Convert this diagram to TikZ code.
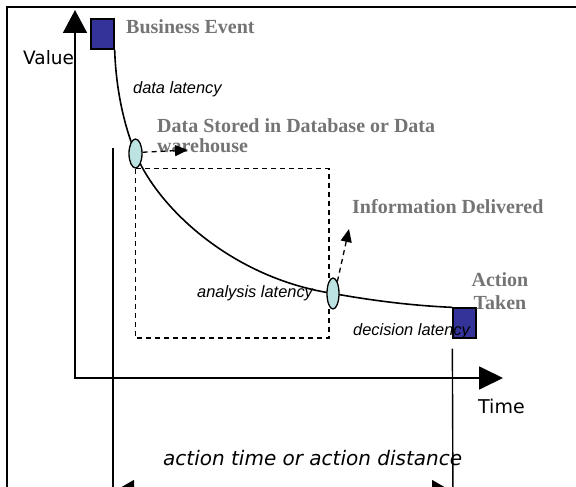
\documentclass[tikz,border=0pt]{standalone}
\usepackage{fontspec}
\setmainfont{Liberation Serif}
\newfontfamily\axisfont{DejaVu Sans}
\newfontfamily\notefont{Liberation Sans}
\usepackage{xcolor}
\usetikzlibrary{positioning, calc, arrows.meta, shapes.geometric, backgrounds}

\definecolor{eventblue}{HTML}{333399}
\definecolor{stagecyan}{HTML}{BCE2E2}
\definecolor{labelgray}{HTML}{747474}

\tikzset{
  frameline/.style={line width=2pt},
  axisline/.style={line width=1.8pt},
  spanline/.style={line width=1.4pt},
  valuecurve/.style={line width=1.6pt},
  eventbox/.style={draw=black, line width=1.3pt, fill=eventblue,
    minimum width=23pt, minimum height=30pt, inner sep=0pt},
  stage/.style={ellipse, draw=black, line width=1.3pt, fill=stagecyan,
    minimum width=13pt, minimum height=29pt, inner sep=0pt},
  dashbox/.style={line width=1.3pt, dash pattern=on 5pt off 4pt},
  dasharrow/.style={line width=1.3pt, dash pattern=on 5pt off 4pt,
    -{Triangle[length=13pt,width=11pt]}},
  milestone/.style={text=labelgray, font=\fontsize{20}{20}\selectfont\bfseries,
    inner sep=0pt},
  latency/.style={font=\notefont\itshape\fontsize{16.4}{19}\selectfont, inner sep=0pt},
  axislabel/.style={font=\axisfont\fontsize{19}{22}\selectfont, inner sep=0pt}
}

\begin{document}
\begin{tikzpicture}[x=1pt, y=-1pt]
    \useasboundingbox (0,0) rectangle (576,487);

    % frame (top and left only)
    \draw[frameline] (576,7) -- (7,7) -- (7,492);

    % axes
    \coordinate (valtop) at (75,10);
    \coordinate (timeend) at (503,378);
    \draw[axisline, {Triangle[length=23pt,width=24pt]}-{Triangle[length=24pt,width=23pt]}]
        (valtop) |- (timeend);

    % events and stages
    \node[eventbox] (bizevent) at (102.5,34) {};
    \node[stage] (stored) at (135.5,153.5) {};
    \node[stage, minimum width=12pt, minimum height=31pt] (delivered) at (333,293.5) {};
    \node[eventbox] (taken) at (464.5,323) {};

    % value curve and analysis box
    \coordinate (boxcorner) at (329,338);
    \begin{scope}[on background layer]
        \draw[valuecurve] (bizevent.south east)
            .. controls (116,90) and (124,125) .. (stored.center)
            .. controls (158,208) and (232,278) .. (delivered.center)
            .. controls (380,302) and (420,306) .. (taken.north west);
        \draw[dashbox] (stored.south) rectangle (boxcorner);
    \end{scope}

    % action time span
    \coordinate (spanleft) at (113,148);
    \coordinate (spanbotleft) at (113,500);
    \coordinate (spanbotright) at (453,500);
    \draw[spanline] (spanleft) -- (spanbotleft);
    \draw[spanline] ([yshift=-10pt]taken.south west) -- (spanbotright);
    \draw[spanline, {Triangle[length=21pt,width=24pt]}-{Triangle[length=21pt,width=24pt]}]
        ($(spanbotleft)+(0,-8)$) -- ($(spanbotright)+(0,-8)$);

    % milestone labels
    \node[milestone, anchor=base west] (bizlabel) at (126,34) {Business Event};
    \node[milestone, anchor=base west, align=left] (storedlabel) at (157,152)
        {Data Stored in Database or Data\\warehouse};
    \node[milestone, anchor=base west] (deliveredlabel) at (352,213) {Information Delivered};
    \node[milestone, align=center, font=\fontsize{20}{23}\selectfont\bfseries]
        (takenlabel) at (500,291) {Action\\Taken};

    % latency labels
    \node[latency, anchor=base west] (datalat) at (133,93) {data latency};
    \node[latency, anchor=base west] (analysislat) at (197,297) {analysis latency};
    \node[latency, anchor=base west] (decisionlat) at (353,335) {decision latency};

    % axis labels
    \node[axislabel, anchor=base west, font=\axisfont\fontsize{18.5}{22}\selectfont] (valuelabel) at (23,65) {Value};
    \node[axislabel, anchor=base west] (timelabel) at (478,413) {Time};
    \node[axislabel, anchor=base west, font=\axisfont\itshape\fontsize{20}{24}\selectfont]
        (spanlabel) at (163,465) {action time or action distance};

    % stage pointers
    \coordinate (storedtip) at (188,150);
    \coordinate (deliveredtip) at (349,229);
    \draw[dasharrow] (stored.10) -- (storedtip);
    \draw[dasharrow] (delivered.70) -- (deliveredtip);

\end{tikzpicture}
\end{document}
